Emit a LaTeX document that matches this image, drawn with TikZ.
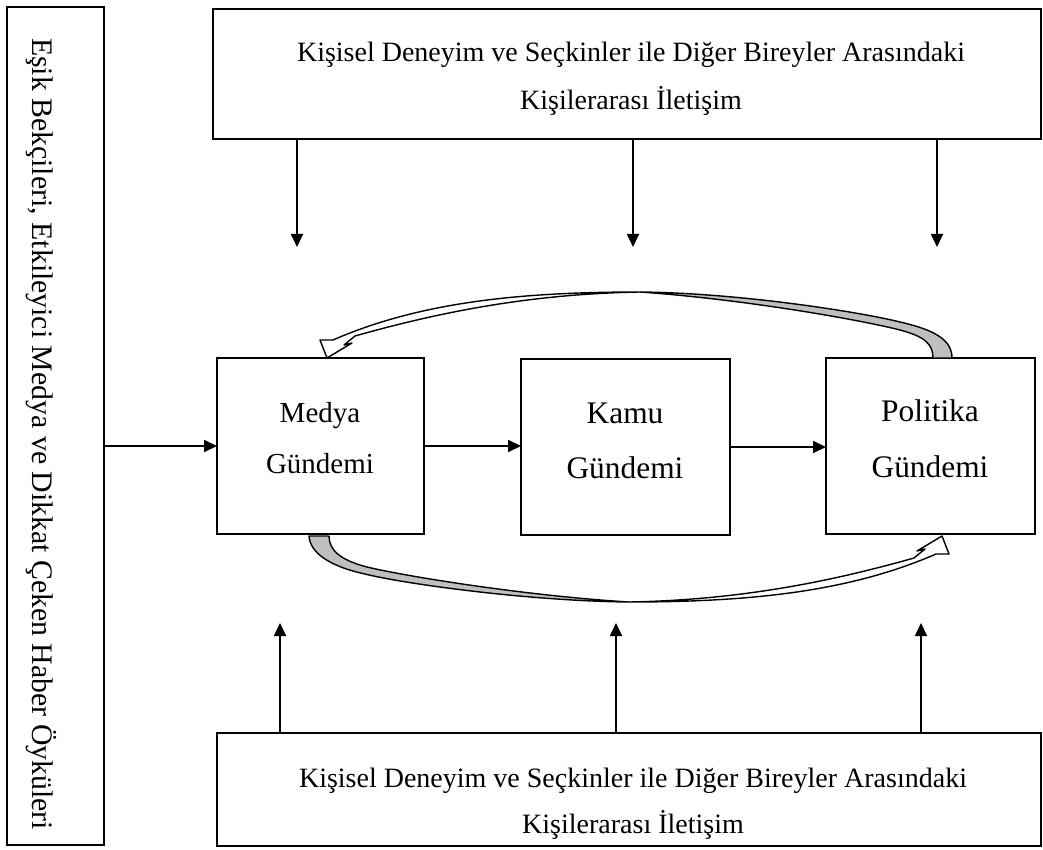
\documentclass[tikz,border=0pt]{standalone}
\usepackage{fontspec}
\setmainfont{Liberation Serif}
\usetikzlibrary{arrows.meta}

\begin{document}
\begin{tikzpicture}[x=1pt,y=-1pt,
  frame/.style={draw=black, line width=1.8pt, inner sep=0pt, outer sep=0pt},
  lbl/.style={inner sep=0pt, anchor=base, font=\fontsize{28}{34}\selectfont},
  medtxt/.style={inner sep=0pt, anchor=base, font=\fontsize{29}{35}\selectfont},
  agtxt/.style={inner sep=0pt, anchor=base, font=\fontsize{31.4}{37}\selectfont},
  link/.style={line width=1.8pt, -{Triangle[length=13pt,width=12pt]}},
  ribbon/.style={line width=1.4pt, line join=round},
  underside/.style={fill=black!25},
]
\useasboundingbox (0,0) rectangle (1043,850);

% frames
\node[frame, minimum width=97pt,  minimum height=838pt] (gate) at (55.5,426) {};
\node[frame, minimum width=828pt, minimum height=130pt] (top)  at (627,74) {};
\node[frame, minimum width=207pt, minimum height=176pt] (med)  at (320.5,446) {};
\node[frame, minimum width=209pt, minimum height=176pt] (kamu) at (625.5,447) {};
\node[frame, minimum width=209pt, minimum height=176pt] (pol)  at (930.5,446) {};
\node[frame, minimum width=824pt, minimum height=113pt] (bot)  at (629,789.5) {};

% texts
\node[lbl] (top1) at (631,62)  {Kişisel Deneyim ve Seçkinler ile Diğer Bireyler Arasındaki};
\node[lbl] (top2) at (631,110) {Kişilerarası İletişim};
\node[lbl] (bot1) at (633,787) {Kişisel Deneyim ve Seçkinler ile Diğer Bireyler Arasındaki};
\node[lbl] (bot2) at (633,833) {Kişilerarası İletişim};
\node[rotate=-90, inner sep=0pt, font=\fontsize{29.8}{36}\selectfont] (gatetxt) at (41,434)
  {Eşik Bekçileri, Etkileyici Medya ve Dikkat Çeken Haber Öyküleri};
\node[medtxt] (med1)  at (320,422) {Medya};
\node[medtxt] (med2)  at (320,473) {Gündemi};
\node[agtxt]  (kamu1) at (625,423) {Kamu};
\node[agtxt]  (kamu2) at (625,478) {Gündemi};
\node[agtxt]  (pol1)  at (930,421) {Politika};
\node[agtxt]  (pol2)  at (930,477) {Gündemi};

% straight connectors
\coordinate (d1) at (297,247);
\coordinate (d2) at (633,247);
\coordinate (d3) at (937,247);
\coordinate (u1) at (280,623);
\coordinate (u2) at (616,623);
\coordinate (u3) at (921,623);
\draw[link] (top.south -| d1) -- (d1);
\draw[link] (top.south -| d2) -- (d2);
\draw[link] (top.south -| d3) -- (d3);
\draw[link] (bot.north -| u1) -- (u1);
\draw[link] (bot.north -| u2) -- (u2);
\draw[link] (bot.north -| u3) -- (u3);
\draw[link] (gate.east |- med.west) -- (med.west);
\draw[link] (med.east) -- (med.east -| kamu.west);
\draw[link] (kamu.east) -- (kamu.east -| pol.west);

% curved block arrow: Politika -> Medya (over the top)
\filldraw[underside, ribbon, draw=black]
  (952,358) .. controls (952,340) and (935,330) .. (900,322)
  .. controls (860,312) and (740,293) .. (640,292)
  .. controls (740,299) and (850,318) .. (896,329)
  .. controls (925,336) and (933,344) .. (933,358) -- cycle;
\filldraw[fill=white, ribbon, draw=black]
  (640,292) .. controls (520,292) and (420,302) .. (333,340)
  -- (320,340) -- (327,358) -- (352,343) -- (344,345) -- (355,336)
  .. controls (440,312) and (530,294) .. (640,292) -- cycle;

% curved block arrow: Medya -> Politika (underneath)
\filldraw[underside, ribbon, draw=black]
  (309,536) .. controls (310,552) and (328,566) .. (365,574)
  .. controls (405,584) and (529,601) .. (629,602)
  .. controls (529,596) and (409,577) .. (367,567)
  .. controls (340,560) and (329,550) .. (329,536) -- cycle;
\filldraw[fill=white, ribbon, draw=black]
  (629,602) .. controls (749,602) and (849,592) .. (936,554)
  -- (949,554) -- (942,536) -- (917,551) -- (925,549) -- (914,558)
  .. controls (829,582) and (739,600) .. (629,602) -- cycle;
\end{tikzpicture}
\end{document}
